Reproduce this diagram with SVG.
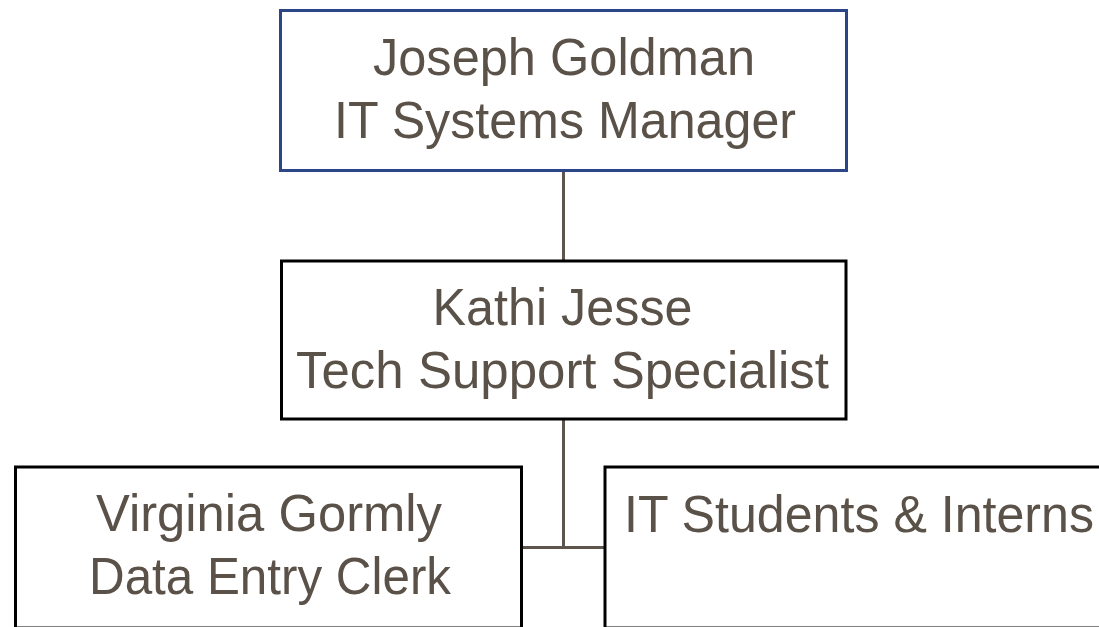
<svg xmlns="http://www.w3.org/2000/svg" width="1099" height="627" viewBox="0 0 1099 627">
  <style>
    .box { fill: #ffffff; stroke: #000000; stroke-width: 3; }
    .top { stroke: #2B4586; }
    .lbl { font-family: "Liberation Sans", Arial, sans-serif; font-size: 52px; fill: #5A5148; }
    .mid { text-anchor: middle; }
    .conn { stroke: #5E554C; stroke-width: 3; fill: none; }
  </style>
  <rect width="1099" height="627" fill="#ffffff"/>
  <g id="connectors">
    <line class="conn" x1="563.5" y1="171" x2="563.5" y2="260"/>
    <line class="conn" x1="563.5" y1="420" x2="563.5" y2="547.5"/>
    <line class="conn" x1="522" y1="547.5" x2="605" y2="547.5"/>
  </g>
  <g id="joseph-goldman">
    <rect class="box top" x="280.5" y="10.5" width="566" height="160"/>
    <text class="lbl mid" x="564" y="75" textLength="382" lengthAdjust="spacingAndGlyphs">Joseph Goldman</text>
    <text class="lbl mid" x="565" y="138" textLength="462" lengthAdjust="spacingAndGlyphs">IT Systems Manager</text>
  </g>
  <g id="kathi-jesse">
    <rect class="box" x="281.5" y="261" width="564.5" height="158"/>
    <text class="lbl mid" x="562.5" y="324.5" textLength="260" lengthAdjust="spacingAndGlyphs">Kathi Jesse</text>
    <text class="lbl mid" x="562.5" y="388" textLength="533" lengthAdjust="spacingAndGlyphs">Tech Support Specialist</text>
  </g>
  <g id="virginia-gormly">
    <rect class="box" x="15.5" y="467" width="506" height="161"/>
    <text class="lbl mid" x="269" y="531" textLength="346" lengthAdjust="spacingAndGlyphs">Virginia Gormly</text>
    <text class="lbl mid" x="270" y="594" textLength="362" lengthAdjust="spacingAndGlyphs">Data Entry Clerk</text>
  </g>
  <g id="it-students-interns">
    <rect class="box" x="605" y="467" width="520" height="161"/>
    <text class="lbl" x="624" y="532" textLength="470" lengthAdjust="spacingAndGlyphs">IT Students &amp; Interns</text>
  </g>
</svg>
